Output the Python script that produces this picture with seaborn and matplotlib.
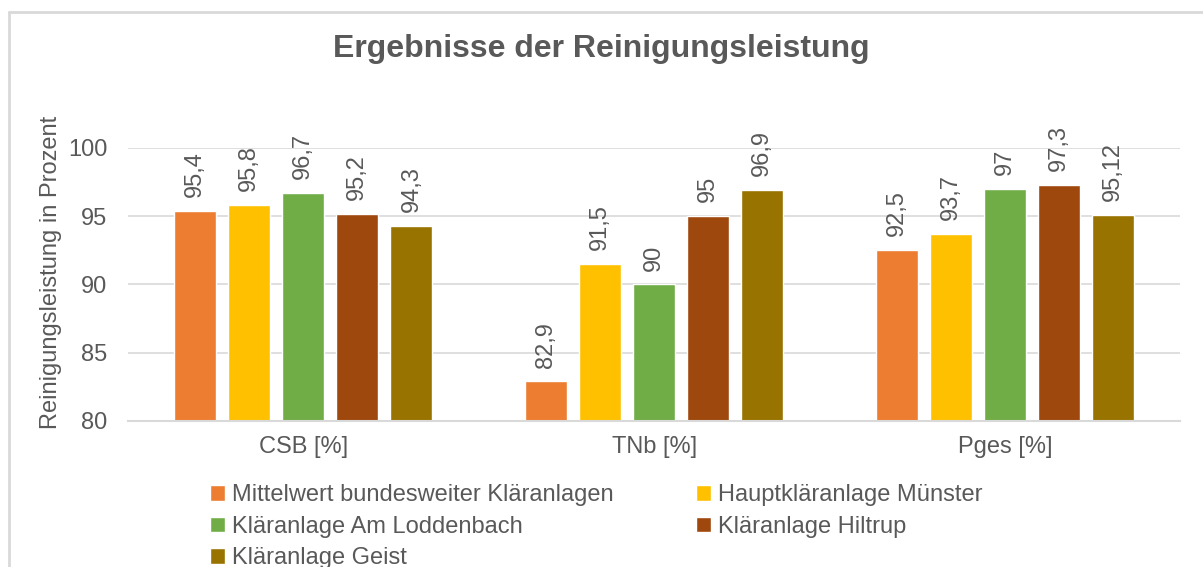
import matplotlib.pyplot as plt
from matplotlib.patches import Rectangle
from matplotlib.lines import Line2D
import pandas as pd
import seaborn as sb

kategorien = ['CSB [%]', 'TNb [%]', 'Pges [%]']
anlagen = ['Mittelwert bundesweiter Kläranlagen', 'Hauptkläranlage Münster',
           'Kläranlage Am Loddenbach', 'Kläranlage Hiltrup', 'Kläranlage Geist']
werte = {
    'Mittelwert bundesweiter Kläranlagen': [95.4, 82.9, 92.5],
    'Hauptkläranlage Münster': [95.8, 91.5, 93.7],
    'Kläranlage Am Loddenbach': [96.7, 90, 97],
    'Kläranlage Hiltrup': [95.2, 95, 97.3],
    'Kläranlage Geist': [94.3, 96.9, 95.12],
}
culori = ['#ED7D31', '#FFC000', '#70AD47', '#9E480E', '#997300']

grau = '#595959'
linie = '#D9D9D9'
fs = 17

zeilen = []
for a in anlagen:
    for k, v in zip(kategorien, werte[a]):
        zeilen.append({'Kategorie': k, 'Anlage': a, 'Wert': v})
df = pd.DataFrame(zeilen)

sb.set_style('white')
plt.rcParams['font.family'] = ['Liberation Sans', 'DejaVu Sans']

f = plt.figure(figsize=(12.03, 5.67), dpi=100)
ax = f.add_axes([0.1064, 0.2575, 0.981 - 0.1064, 0.739 - 0.2575])

sb.barplot(data=df, x='Kategorie', y='Wert', hue='Anlage', hue_order=anlagen,
           order=kategorien, palette=culori, width=0.77, gap=0.22,
           saturation=1, legend=False, ax=ax, err_kws={'linewidth': 0})

ax.set_ylim(80, 100)
ax.set_yticks([80, 85, 90, 95, 100])
ax.yaxis.grid(True, color=linie, linewidth=1.2)
ax.set_axisbelow(True)
for s in ['top', 'right', 'left']:
    ax.spines[s].set_visible(False)
ax.spines['bottom'].set_color(linie)
ax.spines['bottom'].set_linewidth(1.5)
ax.tick_params(axis='both', length=0, labelsize=fs, colors=grau)
ax.tick_params(axis='x', pad=11)
ax.tick_params(axis='y', pad=15)
ax.set_xlabel('')
ax.set_ylabel('Reinigungsleistung in Prozent', fontsize=fs, color=grau)
ax.yaxis.set_label_coords(-0.063, 0.545)

for cont in ax.containers:
    labels = ['{:g}'.format(b.get_height()).replace('.', ',') for b in cont]
    ax.bar_label(cont, labels=labels, rotation=90, padding=10,
                 fontsize=fs, color=grau, clip_on=False)

f.suptitle('Ergebnisse der Reinigungsleistung', x=0.5, y=0.94,
           fontsize=23, fontweight='bold', color=grau)

# Legende zeilenweise wie in Excel
handles = [Rectangle((0, 0), 1, 1, facecolor=c) for c in culori]
reihenfolge = [0, 2, 4, 1, 3]
f.legend([handles[i] for i in reihenfolge], [anlagen[i] for i in reihenfolge],
         loc='upper left', bbox_to_anchor=(0.1665, 0.163),
         ncol=2, frameon=False, fontsize=fs, labelcolor=grau,
         handlelength=0.65, handleheight=0.65, handletextpad=0.3,
         columnspacing=3.47, labelspacing=0.41, borderaxespad=0)

# Rahmen wie im Excel-Diagramm
f.add_artist(Line2D([9 / 1203, 1.0], [1 - 12 / 567, 1 - 12 / 567],
                    transform=f.transFigure, color=linie, linewidth=2))
f.add_artist(Line2D([9 / 1203, 9 / 1203], [0, 1 - 12 / 567],
                    transform=f.transFigure, color=linie, linewidth=2))

f.savefig('out.png', dpi=100)
